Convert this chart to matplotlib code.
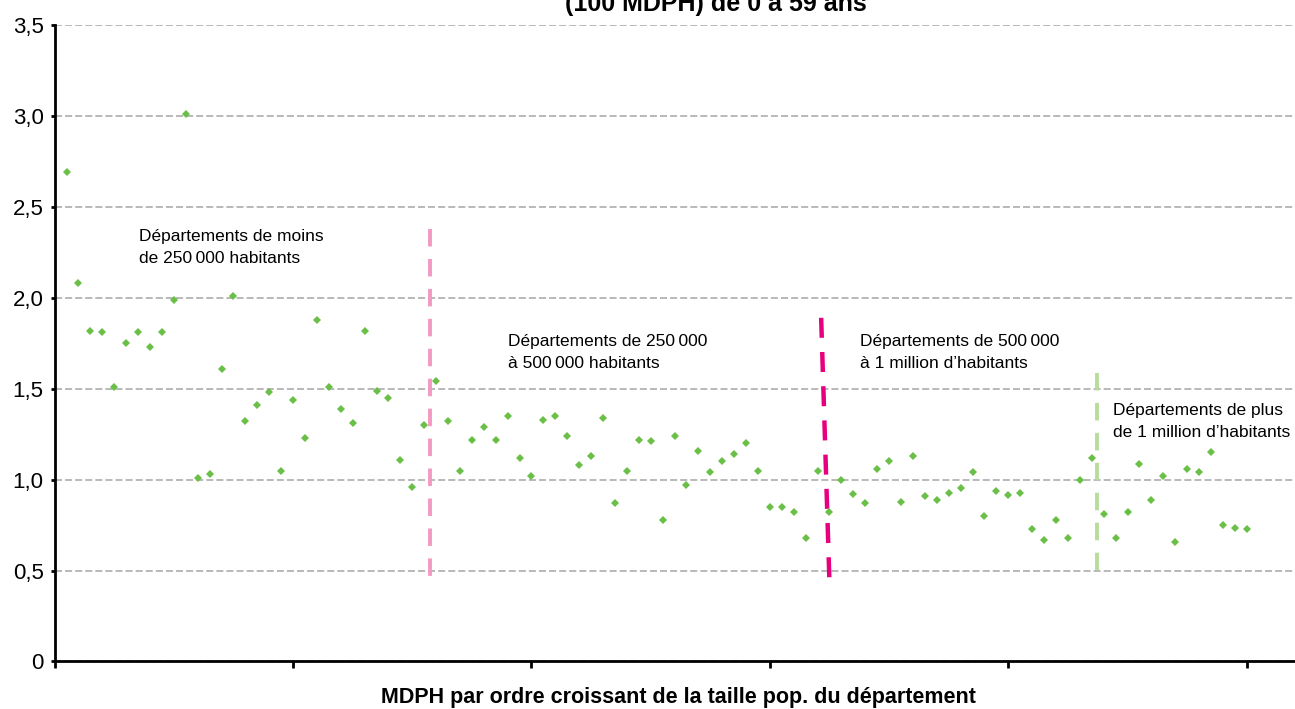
import matplotlib.pyplot as plt
from matplotlib.ticker import FuncFormatter

plt.rcParams['font.family'] = ['Liberation Sans', 'DejaVu Sans']

# MDPH ranked by department population (1..100)
rank = list(range(1, 101))
ratio = [2.69, 2.08, 1.82, 1.81, 1.51, 1.75, 1.81, 1.73, 1.81, 1.99,
         3.01, 1.01, 1.03, 1.61, 2.01, 1.32, 1.41, 1.48, 1.05, 1.44,
         1.23, 1.88, 1.51, 1.39, 1.31, 1.82, 1.49, 1.45, 1.11, 0.96,
         1.30, 1.54, 1.32, 1.05, 1.22, 1.29, 1.22, 1.35, 1.12, 1.02,
         1.33, 1.35, 1.24, 1.08, 1.13, 1.34, 0.87, 1.05, 1.22, 1.21,
         0.78, 1.24, 0.97, 1.16, 1.04, 1.10, 1.14, 1.20, 1.05, 0.85,
         0.85, 0.82, 0.68, 1.05, 0.82, 1.00, 0.92, 0.87, 1.06, 1.10,
         0.875, 1.13, 0.91, 0.89, 0.925, 0.955, 1.04, 0.80, 0.94, 0.915,
         0.925, 0.73, 0.67, 0.78, 0.68, 1.00, 1.12, 0.81, 0.68, 0.82,
         1.085, 0.89, 1.02, 0.655, 1.06, 1.04, 1.15, 0.75, 0.735, 0.73]

# group separators: (x top, x bottom, y top, y bottom, colour)
sep_x_top = [31.5, 64.3, 87.4]
sep_x_bot = [31.5, 65.0, 87.4]
sep_y_top = [2.38, 1.89, 1.585]
sep_y_bot = [0.41, 0.43, 0.46]
sep_colors = ['#f39ac2', '#e6007e', '#b7dc9b']

labels = ['Départements de moins\nde 250\u2009000 habitants',
          'Départements de 250\u2009000\nà 500\u2009000 habitants',
          'Départements de 500\u2009000\nà 1 million d\u2019habitants',
          'Départements de plus\nde 1 million d\u2019habitants']
label_x = [7.1, 38.0, 67.6, 88.8]
label_y = [2.38, 1.80, 1.80, 1.42]

fig = plt.figure(figsize=(12.95, 7.09), dpi=100)
ax = fig.add_axes([0.0422, 0.067, 0.9578, 0.8977])

ax.set_xlim(0, 104.05)
ax.set_ylim(0, 3.5)
ax.set_yticks([0, 0.5, 1.0, 1.5, 2.0, 2.5, 3.0, 3.5])
ax.yaxis.set_major_formatter(FuncFormatter(
    lambda v, p: '0' if v == 0 else ('%.1f' % v).replace('.', ',')))
ax.set_xticks([0, 20, 40, 60, 80, 100])
ax.set_xticklabels([])

ax.grid(axis='y', color='#a6a6a6', linestyle=(0, (4.6, 2.0)), linewidth=1.1)
ax.set_axisbelow(True)
for s in ['top', 'right']:
    ax.spines[s].set_visible(False)
for s in ['left', 'bottom']:
    ax.spines[s].set_linewidth(2)
ax.tick_params(axis='y', length=3, width=2, labelsize=16, pad=5)
ax.tick_params(axis='x', length=5, width=2)

for i in range(3):
    lw = 3.2 if i == 1 else 2.8
    ax.plot([sep_x_top[i], sep_x_bot[i]], [sep_y_top[i], sep_y_bot[i]],
            color=sep_colors[i], linewidth=lw, linestyle=(0, (4.5, 3.2)),
            solid_capstyle='butt', zorder=2)

ax.plot(rank, ratio, linestyle='none', marker='D', markersize=4.3,
        color='#6abf47', markeredgewidth=0, zorder=3)

for t, x, y in zip(labels, label_x, label_y):
    ax.text(x, y, t, fontsize=12.5, va='top', ha='left', linespacing=1.6)

fig.text(0.553, 1 - 11 / 709, '(100 MDPH) de 0 à 59 ans', fontsize=18,
         fontweight='bold', ha='center', va='baseline')
fig.text(0.524, 1 - 703 / 709,
         'MDPH par ordre croissant de la taille pop. du département',
         fontsize=15.5, fontweight='bold', ha='center', va='baseline')

fig.savefig('out.png', dpi=100)
